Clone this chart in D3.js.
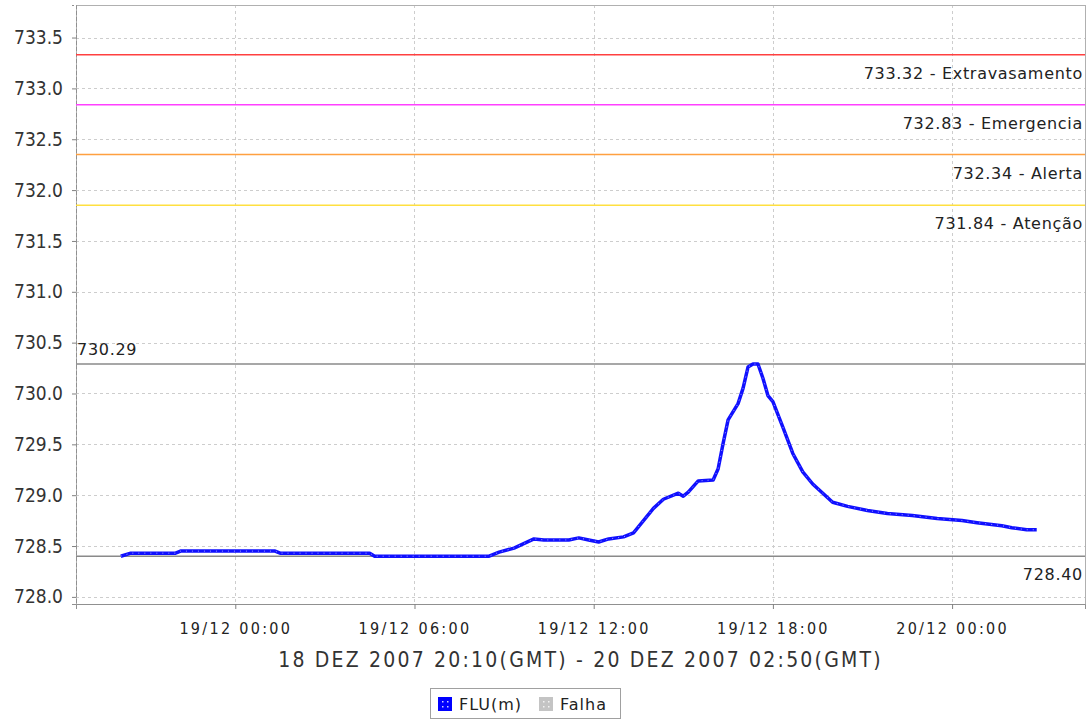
<!DOCTYPE html>
<html>
<head>
<meta charset="utf-8">
<script src="https://cdn.jsdelivr.net/npm/d3@7"></script>
<style>
  body { margin: 0; background: #fff; }
  svg { display: block; }
</style>
</head>
<body>
<div id="chart"></div>
<script>
// level readings (GMT)
const times = [
  '2007-12-18T20:10', '2007-12-18T20:30', '2007-12-18T22:00', '2007-12-18T22:10',
  '2007-12-19T01:20', '2007-12-19T01:30', '2007-12-19T04:30', '2007-12-19T04:40',
  '2007-12-19T08:30', '2007-12-19T08:50', '2007-12-19T09:20', '2007-12-19T10:00',
  '2007-12-19T10:20', '2007-12-19T11:10', '2007-12-19T11:30', '2007-12-19T11:50',
  '2007-12-19T12:10', '2007-12-19T12:30', '2007-12-19T13:00', '2007-12-19T13:20',
  '2007-12-19T13:40', '2007-12-19T14:00', '2007-12-19T14:20', '2007-12-19T14:50',
  '2007-12-19T15:00', '2007-12-19T15:10', '2007-12-19T15:30', '2007-12-19T16:00',
  '2007-12-19T16:10', '2007-12-19T16:20', '2007-12-19T16:30', '2007-12-19T16:50',
  '2007-12-19T17:00', '2007-12-19T17:10', '2007-12-19T17:20', '2007-12-19T17:30',
  '2007-12-19T17:40', '2007-12-19T17:50', '2007-12-19T18:00', '2007-12-19T18:20',
  '2007-12-19T18:40', '2007-12-19T19:00', '2007-12-19T19:20', '2007-12-19T20:00',
  '2007-12-19T20:30', '2007-12-19T21:10', '2007-12-19T21:50', '2007-12-19T22:40',
  '2007-12-19T23:30', '2007-12-20T00:20', '2007-12-20T00:50', '2007-12-20T01:40',
  '2007-12-20T02:00', '2007-12-20T02:30', '2007-12-20T02:50'
];
const levels = [
  728.40, 728.43, 728.43, 728.45,
  728.45, 728.43, 728.43, 728.40,
  728.40, 728.44, 728.48, 728.57,
  728.56, 728.56, 728.58, 728.56,
  728.54, 728.57, 728.59, 728.63,
  728.75, 728.87, 728.96, 729.02,
  728.99, 729.03, 729.14, 729.15,
  729.26, 729.51, 729.74, 729.90,
  730.05, 730.26, 730.29, 730.29,
  730.15, 729.98, 729.92, 729.67,
  729.41, 729.23, 729.11, 728.93,
  728.89, 728.85, 728.82, 728.80,
  728.77, 728.75, 728.73, 728.70,
  728.68, 728.66, 728.66
];

// alarm thresholds
const limitValues = [733.32, 732.83, 732.34, 731.84];
const limitNames  = ['Extravasamento', 'Emergencia', 'Alerta', 'Atenção'];
const limitColors = ['#ff4040', '#ff40ff', '#ffa040', '#ffe040'];

// observed max / min
const peakValue = 730.29;
const lowValue  = 728.40;

const yTicks = [728.0, 728.5, 729.0, 729.5, 730.0, 730.5, 731.0, 731.5, 732.0, 732.5, 733.0, 733.5];
const xTicks = ['2007-12-19T00:00', '2007-12-19T06:00', '2007-12-19T12:00', '2007-12-19T18:00', '2007-12-20T00:00'];
const xDomain = ['2007-12-18T18:40', '2007-12-20T04:27'];
const yDomain = [727.93, 733.82];

const periodText = '18 DEZ 2007 20:10(GMT) - 20 DEZ 2007 02:50(GMT)';
const legendItems = [
  { name: 'FLU(m)', color: '#0000ff' },
  { name: 'Falha',  color: '#c4c4c4' }
];

const parseT = d3.utcParse('%Y-%m-%dT%H:%M');
const data = times.map((t, i) => ({ t: parseT(t), v: levels[i] }));

const width  = 1090,
      height = 723;
const plot = { left: 76, top: 5, right: 1085, bottom: 604 };
const sans = '"DejaVu Sans", sans-serif',
      cond = '"DejaVu Sans Condensed", "DejaVu Sans", sans-serif';

const svg = d3.select('#chart')
    .append('svg')
      .attr('width', width)
      .attr('height', height)
      .style('font-family', sans);

const x = d3.scaleUtc()
    .domain(xDomain.map(parseT))
    .range([plot.left, plot.right]);

const y = d3.scaleLinear()
    .domain(yDomain)
    .range([plot.bottom, plot.top]);

// grid
const grid = svg.append('g')
    .attr('stroke', '#cdcdcd')
    .attr('stroke-dasharray', '3,3')
    .attr('stroke-width', 1);

grid.selectAll('.hg')
    .data(yTicks)
    .enter()
    .append('line')
      .attr('x1', plot.left)
      .attr('x2', plot.right)
      .attr('y1', d => Math.round(y(d)) + 0.5)
      .attr('y2', d => Math.round(y(d)) + 0.5);

grid.selectAll('.vg')
    .data(xTicks.map(parseT))
    .enter()
    .append('line')
      .attr('x1', d => Math.round(x(d)) + 0.5)
      .attr('x2', d => Math.round(x(d)) + 0.5)
      .attr('y1', plot.top)
      .attr('y2', plot.bottom);

// plot outline
svg.append('rect')
    .attr('x', plot.left + 0.5)
    .attr('y', plot.top + 0.5)
    .attr('width', plot.right - plot.left)
    .attr('height', plot.bottom - plot.top)
    .attr('fill', 'none')
    .attr('stroke', '#b0b0b0');

// y axis
const yAxis = svg.append('g')
    .attr('transform', `translate(${plot.left}, 0)`)
    .call(d3.axisLeft(y).tickValues(yTicks).tickFormat(d3.format('.1f')).tickSize(4).tickPadding(9));
yAxis.select('.domain').attr('stroke', '#909090').attr('stroke-dasharray', '4,2');
yAxis.selectAll('.tick line').attr('stroke', '#808080');
yAxis.selectAll('.tick text')
    .attr('fill', '#333')
    .style('font-family', cond)
    .style('font-size', '19px');

// x axis
const xAxis = svg.append('g')
    .attr('transform', `translate(0, ${plot.bottom})`)
    .call(d3.axisBottom(x).tickValues(xTicks.map(parseT)).tickFormat(d3.utcFormat('%d/%m %H:%M')).tickSize(5).tickPadding(14));
xAxis.select('.domain').attr('stroke', '#909090');
xAxis.selectAll('.tick line').attr('stroke', '#808080');
xAxis.selectAll('.tick text')
    .attr('fill', '#222')
    .style('font-family', cond)
    .style('font-size', '16px')
    .style('letter-spacing', '2.3px');

svg.append('text')
    .attr('x', (plot.left + plot.right) / 2)
    .attr('y', 667)
    .attr('text-anchor', 'middle')
    .attr('fill', '#333')
    .style('font-family', cond)
    .style('font-size', '21px')
    .style('letter-spacing', '2.2px')
    .text(periodText);

// threshold markers
const limits = svg.selectAll('.limit')
    .data(limitValues)
    .enter()
    .append('g')
    .attr('class', 'limit');

limits.append('line')
    .attr('x1', plot.left)
    .attr('x2', plot.right)
    .attr('y1', d => y(d) - 1)
    .attr('y2', d => y(d) - 1)
    .attr('stroke', (d, i) => limitColors[i])
    .attr('stroke-width', 1.5);

limits.append('text')
    .attr('x', plot.right - 2)
    .attr('y', d => y(d) + 23)
    .attr('text-anchor', 'end')
    .attr('fill', '#222')
    .style('font-size', '16px')
    .style('letter-spacing', '0.7px')
    .text((d, i) => `${d.toFixed(2)} - ${limitNames[i]}`);

// max / min markers
svg.selectAll('.mark')
    .data([peakValue, lowValue])
    .enter()
    .append('line')
      .attr('x1', plot.left)
      .attr('x2', plot.right)
      .attr('y1', d => y(d))
      .attr('y2', d => y(d))
      .attr('stroke', '#8a8a8a')
      .attr('stroke-width', 1.5);

svg.append('text')
    .attr('x', plot.left + 1)
    .attr('y', y(peakValue) - 9)
    .attr('fill', '#222')
    .style('font-size', '16px')
    .style('letter-spacing', '0.7px')
    .text(peakValue.toFixed(2));

svg.append('text')
    .attr('x', plot.right - 2)
    .attr('y', y(lowValue) + 24)
    .attr('text-anchor', 'end')
    .attr('fill', '#222')
    .style('font-size', '16px')
    .style('letter-spacing', '0.7px')
    .text(lowValue.toFixed(2));

// series
const line = d3.line()
    .x(d => x(d.t))
    .y(d => y(d.v));

svg.append('path')
    .datum(data)
    .attr('d', line)
    .attr('fill', 'none')
    .attr('stroke', '#1010ff')
    .attr('stroke-width', 3.5)
    .attr('stroke-linejoin', 'round');

svg.append('path')
    .datum(data)
    .attr('d', line)
    .attr('fill', 'none')
    .attr('stroke', '#a0a0ff')
    .attr('stroke-width', 1)
    .attr('stroke-dasharray', '1,5');

// legend
const legend = svg.append('g')
    .attr('transform', 'translate(430, 688)');

legend.append('rect')
    .attr('x', 0.5)
    .attr('y', 0.5)
    .attr('width', 190)
    .attr('height', 30)
    .attr('fill', '#fff')
    .attr('stroke', '#a0a0a0');

const item = legend.selectAll('.item')
    .data(legendItems)
    .enter()
    .append('g')
    .attr('class', 'item')
    .attr('transform', (d, i) => `translate(${8 + i * 101}, 9)`);

item.append('rect')
    .attr('width', 14)
    .attr('height', 14)
    .attr('fill', d => d.color);

// small white marker dots inside the swatch
item.selectAll('.dot')
    .data([[4, 4], [9, 4], [4, 9], [9, 9]])
    .enter()
    .append('rect')
      .attr('x', d => d[0])
      .attr('y', d => d[1])
      .attr('width', 1.5)
      .attr('height', 1.5)
      .attr('fill', '#fff')
      .attr('opacity', 0.8);

item.append('text')
    .attr('x', 21)
    .attr('y', 13)
    .attr('fill', '#222')
    .style('font-size', '16px')
    .style('letter-spacing', '1px')
    .text(d => d.name);
</script>
</body>
</html>
